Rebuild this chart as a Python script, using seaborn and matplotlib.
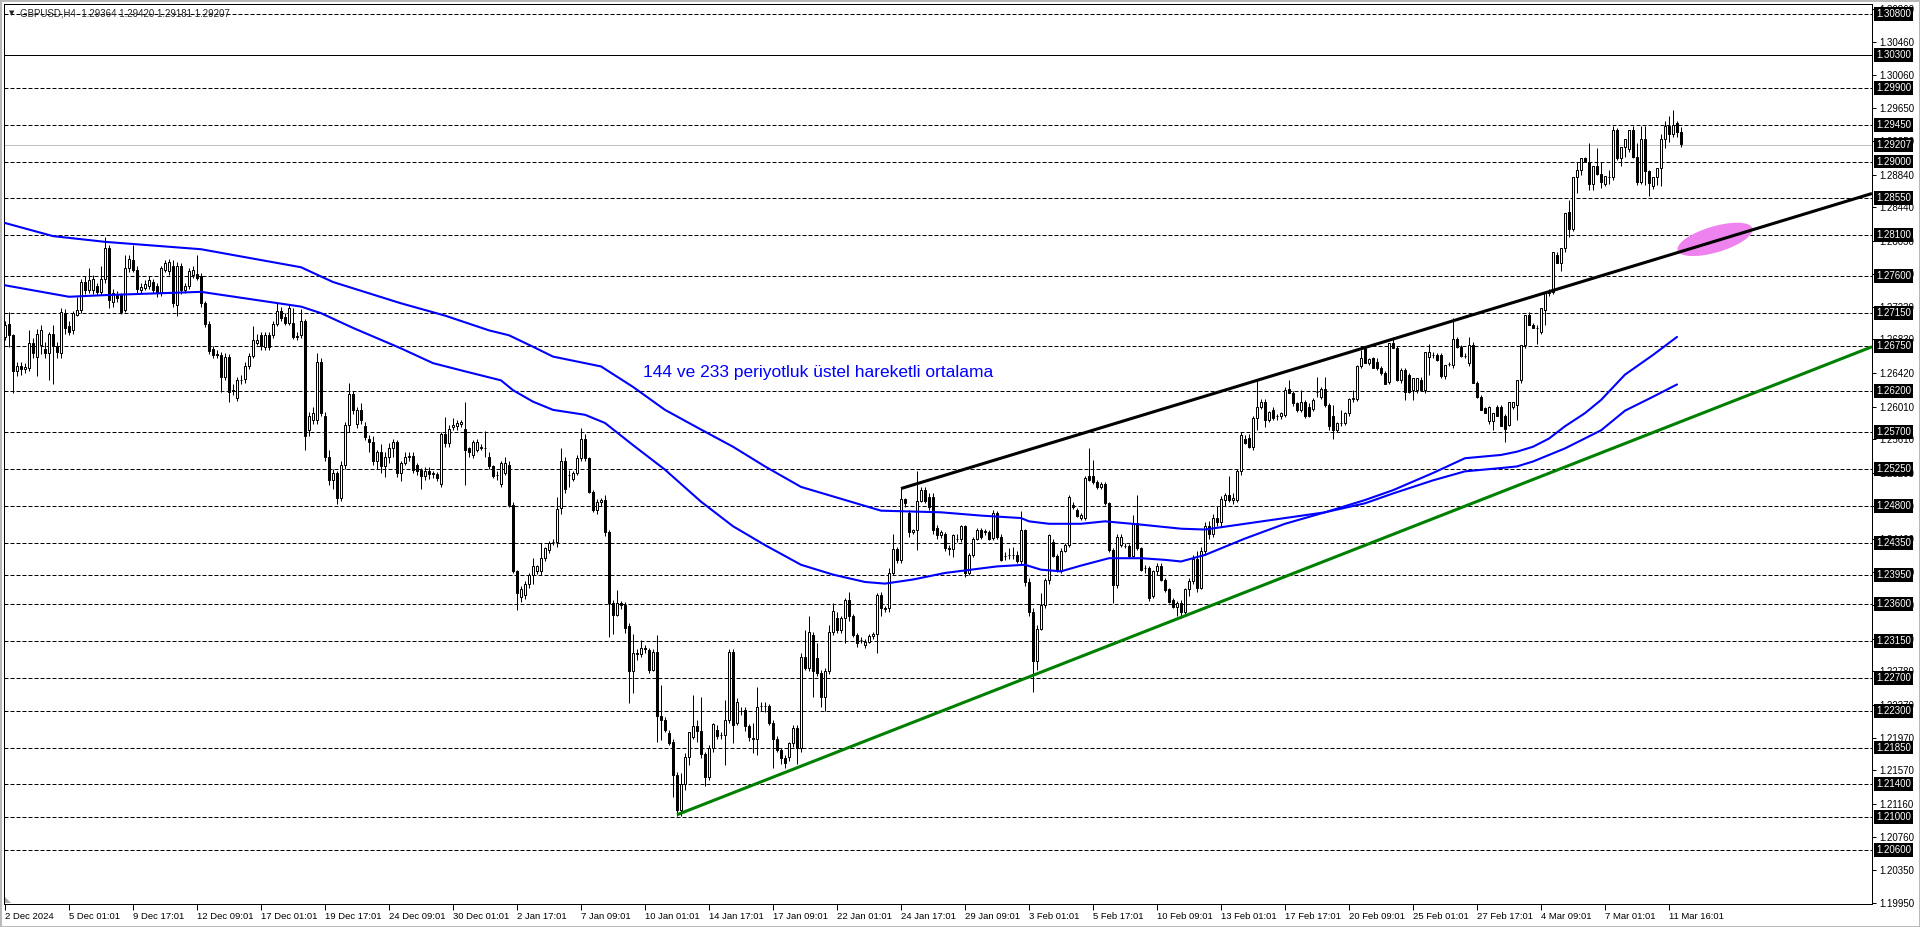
import numpy as np
import pandas as pd
import matplotlib
matplotlib.use("Agg")
import matplotlib.pyplot as plt
import matplotlib.transforms as mtransforms
from matplotlib.patches import Ellipse, Polygon
import seaborn as sns

# GBPUSD H4 candles, values in pips above 1.2000 (686 -> 1.2686)
opens = [
    686, 702, 688, 645, 650, 647, 648, 678, 662, 676,
    671, 666, 689, 675, 666, 715, 699, 694, 713, 719,
    753, 743, 743, 748, 741, 757, 794, 729, 737, 737,
    719, 770, 780, 768, 743, 746, 748, 753, 748, 740,
    768, 766, 773, 725, 773, 743, 748, 762, 763, 760,
    727, 702, 671, 664, 664, 637, 662, 620, 611, 633,
    635, 650, 663, 678, 688, 674, 688, 688, 702, 718,
    710, 703, 703, 687, 688, 705, 572, 585, 585, 656,
    589, 540, 512, 520, 490, 530, 578, 616, 580, 597,
    577, 562, 558, 535, 545, 528, 540, 550, 558, 520,
    532, 540, 541, 530, 524, 516, 523, 519, 519, 507,
    568, 556, 576, 577, 580, 574, 550, 542, 548, 552,
    551, 540, 528, 518, 506, 520, 530, 481, 400, 369,
    371, 385, 395, 400, 400, 416, 426, 436, 436, 477,
    534, 518, 513, 520, 538, 562, 538, 497, 475, 485,
    487, 448, 361, 347, 361, 359, 333, 278, 300, 299,
    306, 304, 280, 302, 223, 218, 203, 192, 151, 109,
    141, 174, 198, 211, 205, 177, 149, 185, 207, 200,
    200, 218, 302, 215, 230, 231, 211, 197, 196, 236,
    236, 236, 215, 196, 182, 172, 174, 190, 209, 184,
    296, 282, 322, 294, 276, 247, 278, 326, 343, 329,
    343, 365, 345, 322, 316, 310, 314, 321, 324, 371,
    355, 355, 398, 427, 414, 488, 471, 448, 450, 486,
    499, 491, 491, 453, 444, 446, 428, 427, 440, 439,
    455, 398, 420, 440, 450, 448, 448, 441, 471, 442,
    419, 420, 420, 420, 412, 450, 387, 350, 290, 330,
    359, 390, 436, 419, 400, 425, 432, 481, 475, 465,
    465, 516, 516, 509, 503, 507, 483, 426, 383, 432,
    431, 431, 419, 459, 428, 404, 404, 370, 400, 407,
    390, 378, 365, 357, 361, 350, 378, 388, 415, 380,
    425, 455, 445, 465, 460, 487, 493, 487, 487, 522,
    562, 563, 552, 587, 601, 607, 585, 597, 589, 589,
    591, 623, 618, 605, 597, 607, 601, 598, 619, 613,
    622, 603, 590, 573, 581, 581, 593, 610, 610, 650,
    672, 654, 660, 656, 648, 642, 631, 678, 672, 633,
    646, 640, 621, 621, 634, 621, 662, 664, 664, 664,
    638, 653, 652, 683, 674, 663, 654, 676, 630, 613,
    599, 583, 583, 601, 601, 589, 579, 601, 603, 634,
    676, 713, 701, 697, 692, 719, 739, 741, 786, 776,
    794, 839, 818, 881, 890, 904, 900, 873, 894, 885,
    873, 881, 881, 939, 904, 918, 915, 939, 905, 875,
    928, 889, 870, 881, 892, 928, 943, 934, 947, 936,
]
highs = [
    705, 716, 690, 655, 655, 654, 694, 685, 696, 700,
    680, 692, 700, 680, 721, 720, 705, 718, 735, 757,
    760, 770, 762, 752, 772, 808, 798, 745, 742, 740,
    786, 786, 798, 772, 752, 756, 760, 757, 752, 772,
    780, 781, 780, 778, 776, 752, 770, 772, 786, 764,
    730, 705, 675, 670, 667, 666, 665, 628, 637, 640,
    655, 666, 699, 690, 692, 692, 692, 705, 727, 723,
    715, 725, 721, 692, 720, 708, 595, 600, 666, 660,
    595, 548, 525, 522, 535, 582, 630, 620, 600, 605,
    582, 566, 565, 548, 555, 545, 556, 562, 560, 535,
    545, 546, 545, 532, 526, 527, 527, 523, 521, 570,
    588, 578, 587, 585, 585, 607, 552, 560, 561, 555,
    571, 545, 530, 522, 535, 540, 535, 485, 402, 382,
    388, 398, 416, 408, 434, 430, 437, 439, 491, 550,
    540, 524, 522, 542, 575, 567, 540, 499, 488, 490,
    493, 450, 365, 377, 364, 362, 337, 324, 305, 316,
    310, 307, 305, 322, 261, 222, 206, 195, 155, 154,
    178, 204, 249, 219, 247, 180, 188, 215, 212, 204,
    243, 305, 305, 245, 235, 234, 214, 215, 259, 240,
    240, 238, 218, 199, 185, 176, 192, 212, 212, 300,
    329, 345, 326, 312, 280, 282, 334, 361, 350, 345,
    367, 375, 348, 325, 320, 317, 323, 326, 374, 375,
    358, 404, 446, 430, 503, 490, 475, 452, 522, 503,
    503, 495, 495, 456, 450, 448, 432, 446, 445, 457,
    457, 422, 442, 453, 453, 452, 450, 475, 474, 445,
    424, 428, 430, 425, 473, 452, 392, 355, 335, 373,
    392, 446, 440, 421, 428, 434, 493, 484, 477, 471,
    516, 550, 536, 511, 509, 509, 485, 428, 445, 445,
    434, 433, 469, 493, 430, 408, 406, 402, 410, 410,
    392, 380, 367, 364, 365, 380, 392, 420, 425, 430,
    460, 462, 470, 480, 492, 495, 516, 495, 525, 570,
    566, 568, 590, 633, 610, 610, 596, 600, 592, 595,
    625, 633, 620, 607, 621, 609, 605, 611, 637, 625,
    637, 605, 603, 582, 597, 595, 612, 621, 652, 670,
    672, 660, 662, 660, 650, 644, 678, 686, 675, 648,
    648, 642, 636, 636, 637, 668, 677, 668, 666, 666,
    652, 656, 709, 686, 676, 666, 686, 680, 632, 615,
    601, 602, 593, 603, 603, 592, 607, 607, 634, 676,
    713, 716, 703, 700, 721, 741, 745, 790, 790, 794,
    837, 853, 881, 900, 904, 906, 922, 894, 916, 900,
    882, 890, 943, 941, 918, 928, 939, 943, 922, 943,
    943, 890, 881, 892, 934, 949, 955, 963, 950, 942,
]
lows = [
    682, 674, 617, 638, 640, 642, 645, 660, 638, 665,
    660, 633, 629, 660, 660, 690, 688, 690, 711, 715,
    738, 740, 738, 737, 737, 752, 721, 722, 728, 714,
    716, 765, 765, 740, 740, 743, 744, 739, 735, 736,
    765, 762, 722, 712, 738, 740, 745, 758, 755, 722,
    698, 665, 660, 660, 619, 633, 607, 615, 608, 628,
    630, 647, 660, 676, 670, 670, 670, 685, 699, 705,
    700, 700, 683, 682, 685, 548, 565, 580, 580, 590,
    535, 505, 500, 482, 486, 525, 570, 592, 575, 580,
    560, 545, 530, 525, 520, 515, 532, 540, 515, 510,
    530, 535, 520, 518, 500, 512, 513, 514, 510, 503,
    552, 552, 572, 573, 576, 505, 540, 538, 545, 548,
    540, 525, 514, 512, 503, 518, 478, 398, 353, 363,
    366, 380, 385, 397, 396, 412, 422, 432, 430, 470,
    496, 503, 510, 518, 535, 535, 495, 472, 470, 480,
    443, 320, 324, 345, 354, 325, 239, 251, 292, 296,
    300, 276, 278, 192, 194, 204, 188, 125, 101, 101,
    133, 164, 195, 192, 172, 138, 145, 180, 196, 196,
    164, 215, 190, 212, 225, 205, 193, 178, 176, 230,
    228, 212, 160, 180, 165, 160, 168, 186, 165, 180,
    280, 278, 247, 272, 235, 229, 275, 322, 325, 325,
    312, 340, 320, 308, 312, 307, 312, 318, 300, 345,
    350, 350, 395, 410, 410, 478, 442, 445, 426, 484,
    483, 475, 446, 440, 441, 425, 420, 418, 436, 436,
    393, 395, 418, 438, 440, 444, 438, 438, 440, 412,
    414, 415, 415, 410, 408, 382, 345, 253, 280, 328,
    355, 385, 417, 399, 398, 423, 430, 476, 466, 463,
    463, 510, 507, 501, 501, 481, 424, 361, 380, 430,
    428, 417, 417, 426, 400, 398, 364, 368, 396, 388,
    375, 361, 355, 345, 343, 348, 370, 385, 375, 378,
    420, 440, 442, 455, 455, 480, 485, 482, 484, 518,
    555, 550, 548, 572, 598, 576, 582, 585, 585, 586,
    588, 617, 602, 595, 595, 587, 588, 596, 613, 610,
    601, 572, 562, 570, 577, 578, 590, 607, 608, 648,
    654, 652, 648, 646, 640, 628, 628, 672, 632, 630,
    609, 618, 609, 618, 620, 618, 640, 660, 657, 636,
    635, 650, 648, 672, 662, 660, 650, 630, 612, 597,
    593, 580, 572, 589, 577, 558, 577, 598, 585, 630,
    672, 701, 697, 677, 690, 701, 736, 738, 776, 767,
    790, 808, 815, 861, 883, 900, 865, 865, 883, 868,
    870, 873, 878, 902, 894, 906, 912, 904, 871, 872,
    871, 858, 867, 871, 870, 916, 924, 930, 930, 918,
]
closes = [
    701, 688, 645, 650, 647, 649, 678, 666, 690, 694,
    666, 690, 675, 668, 716, 697, 692, 715, 719, 753,
    743, 756, 757, 741, 757, 794, 731, 739, 733, 717,
    770, 781, 768, 745, 747, 751, 755, 743, 739, 770,
    776, 777, 727, 773, 743, 748, 766, 768, 758, 727,
    702, 669, 664, 665, 637, 662, 619, 621, 633, 634,
    650, 663, 682, 682, 675, 688, 674, 702, 718, 709,
    703, 721, 686, 686, 705, 565, 589, 593, 656, 593,
    540, 512, 520, 490, 530, 578, 616, 597, 597, 585,
    564, 558, 535, 545, 528, 540, 550, 558, 520, 532,
    540, 541, 524, 522, 516, 523, 519, 520, 514, 568,
    556, 574, 578, 581, 582, 548, 546, 558, 558, 550,
    550, 528, 516, 517, 532, 532, 481, 400, 373, 379,
    385, 395, 406, 406, 416, 428, 435, 436, 476, 534,
    501, 518, 520, 538, 562, 538, 497, 475, 485, 487,
    448, 361, 347, 361, 359, 331, 278, 300, 299, 306,
    305, 280, 302, 223, 218, 207, 190, 151, 109, 141,
    174, 204, 211, 205, 177, 149, 185, 214, 199, 200,
    218, 302, 213, 241, 229, 211, 198, 196, 235, 236,
    236, 215, 196, 182, 172, 166, 190, 209, 184, 296,
    282, 326, 278, 276, 247, 278, 326, 351, 329, 343,
    365, 345, 322, 312, 316, 314, 321, 324, 371, 355,
    354, 398, 427, 414, 488, 483, 448, 450, 486, 499,
    486, 478, 450, 444, 448, 428, 427, 444, 439, 455,
    398, 420, 440, 450, 442, 449, 440, 471, 442, 414,
    419, 420, 420, 412, 450, 387, 350, 290, 330, 359,
    390, 444, 419, 402, 425, 432, 491, 478, 468, 469,
    514, 512, 509, 503, 507, 483, 426, 383, 442, 442,
    431, 419, 459, 428, 402, 404, 367, 400, 407, 390,
    377, 363, 357, 361, 350, 378, 388, 415, 380, 425,
    455, 445, 465, 460, 488, 493, 487, 490, 522, 566,
    556, 552, 587, 601, 607, 585, 595, 587, 589, 593,
    621, 618, 605, 597, 607, 589, 590, 609, 619, 622,
    603, 577, 573, 581, 581, 593, 610, 611, 650, 660,
    654, 659, 648, 648, 642, 629, 678, 672, 633, 646,
    619, 619, 636, 636, 621, 668, 668, 664, 658, 638,
    652, 653, 683, 674, 663, 663, 676, 630, 613, 597,
    593, 601, 593, 589, 577, 574, 607, 607, 634, 676,
    713, 701, 697, 697, 721, 741, 741, 790, 776, 794,
    837, 818, 881, 890, 904, 900, 873, 894, 885, 875,
    882, 881, 939, 904, 918, 928, 939, 905, 875, 928,
    889, 874, 881, 892, 928, 943, 934, 945, 936, 921,
]

date_labels = [
    "2 Dec 2024", "5 Dec 01:01", "9 Dec 17:01", "12 Dec 09:01", "17 Dec 01:01",
    "19 Dec 17:01", "24 Dec 09:01", "30 Dec 01:01", "2 Jan 17:01", "7 Jan 09:01",
    "10 Jan 01:01", "14 Jan 17:01", "17 Jan 09:01", "22 Jan 01:01", "24 Jan 17:01",
    "29 Jan 09:01", "3 Feb 01:01", "5 Feb 17:01", "10 Feb 09:01", "13 Feb 01:01",
    "17 Feb 17:01", "20 Feb 09:01", "25 Feb 01:01", "27 Feb 17:01", "4 Mar 09:01",
    "7 Mar 01:01", "11 Mar 16:01",
]

# EMA 144 / 233 (bar index, pips above 1.2000)
ema144_bars = [0, 16, 25, 49, 74, 79, 87, 99, 107, 115, 124, 127, 132, 137, 145, 150,
               157, 165, 174, 182, 190, 199, 207, 215, 220, 227, 235, 248, 255, 259,
               264, 269, 276, 284, 290, 294, 300, 310, 320, 330, 340, 347, 357, 365,
               374, 378, 382, 386, 390, 395, 399, 405, 412, 418]
ema144_vals = [749, 735, 737, 741, 723, 715, 697, 672, 654, 644, 633, 621, 607, 597, 591, 581,
               554, 524, 485, 455, 432, 408, 396, 387, 385, 390, 398, 406, 408, 402,
               400, 407, 416, 416, 414, 412, 420, 440, 458, 472, 487, 499, 520, 538,
               542, 546, 552, 562, 577, 593, 609, 640, 664, 686]
ema233_bars = [0, 12, 25, 49, 74, 82, 99, 110, 121, 126, 132, 137, 149, 157, 165, 174,
               182, 190, 199, 219, 234, 244, 254, 256, 261, 269, 275, 284, 290, 294,
               300, 310, 320, 330, 340, 347, 357, 365, 374, 378, 382, 390, 399, 405,
               412, 418]
ema233_vals = [825, 809, 802, 793, 771, 753, 727, 712, 694, 688, 674, 662, 650, 625, 597, 573,
               552, 528, 503, 474, 472, 468, 465, 461, 458, 458, 461, 457, 454, 452,
               451, 458, 465, 472, 483, 495, 511, 522, 526, 528, 534, 550, 572, 596,
               613, 628]

# horizontal lines drawn by the user
dashed_levels = [1.30800, 1.29900, 1.29450, 1.29000, 1.28550, 1.28100, 1.27600, 1.27150,
                 1.26750, 1.26200, 1.25700, 1.25250, 1.24800, 1.24350, 1.23950, 1.23600,
                 1.23150, 1.22700, 1.22300, 1.21850, 1.21400, 1.21000, 1.20600]
solid_level = 1.30300
last_price = 1.29207
scale_levels = [1.19950, 1.20350, 1.20760, 1.21160, 1.21570, 1.21970, 1.22370, 1.22780,
                1.23180, 1.23590, 1.23990, 1.24400, 1.24800, 1.25200, 1.25610, 1.26010,
                1.26420, 1.26830, 1.27230, 1.27630, 1.28030, 1.28440, 1.28840, 1.29250,
                1.29650, 1.30060, 1.30460, 1.30860]

# trend lines (bar index, price)
black_trend_bars = [224, 466.75]
black_trend_vals = [1.2501, 1.2861]
green_trend_bars = [168, 466.75]
green_trend_vals = [1.2103, 1.2674]
marker_bar, marker_price = 427.5, 1.2805

title_text = "GBPUSD,H4  1.29364 1.29420 1.29181 1.29207"
note_text = "144 ve 233 periyotluk üstel hareketli ortalama"
note_bar, note_price = 159.5, 1.2643


def to_price(v):
    return 1.2 + np.asarray(v, dtype=float) / 10000.0


def main():
    df = pd.DataFrame({
        "o": to_price(opens), "h": to_price(highs),
        "l": to_price(lows), "c": to_price(closes),
    })
    df["bar"] = np.arange(len(df))
    up = df["c"] >= df["o"]
    body_lo = np.minimum(df["o"], df["c"])
    body_h = (df["c"] - df["o"]).abs()

    sns.set_theme(style="white")
    plt.rcParams["font.family"] = ["Liberation Sans", "DejaVu Sans"]

    W, H = 1920, 927
    fig = plt.figure(figsize=(W / 100, H / 100), dpi=100)
    fig.patch.set_facecolor("white")
    fig.patch.set_edgecolor("#b9b9b9")
    fig.patch.set_linewidth(2)
    ax = fig.add_axes([4 / W, (H - 904) / H, 1868 / W, 900 / H])
    ax.set_facecolor("white")
    ax.set_xlim(-0.25, 466.75)
    ax.set_ylim(1.19941, 1.30922)

    px = 0.72  # one pixel in points
    for lv in dashed_levels:
        ax.axhline(lv, color="black", lw=px, ls=(0, (4, 2)), zorder=1)
    ax.axhline(solid_level, color="black", lw=px, zorder=1)
    ax.axhline(last_price, color="#c0c0c0", lw=px, zorder=1)

    # candles
    ax.vlines(df["bar"], df["l"], df["h"], color="black", lw=px, zorder=3)
    ax.bar(df["bar"][up], body_h[up], bottom=body_lo[up], width=0.5,
           color="white", edgecolor="black", linewidth=px, zorder=4)
    ax.bar(df["bar"][~up], body_h[~up], bottom=body_lo[~up], width=0.5,
           color="black", edgecolor="black", linewidth=px, zorder=4)

    # moving averages
    sns.lineplot(x=ema144_bars, y=to_price(ema144_vals), ax=ax, color="#0000ff",
                 lw=1.5, zorder=5)
    sns.lineplot(x=ema233_bars, y=to_price(ema233_vals), ax=ax, color="#0000ff",
                 lw=1.5, zorder=5)

    ax.plot(green_trend_bars, green_trend_vals, color="#008000", lw=2.2,
            solid_capstyle="butt", zorder=6)

    # pink marker ellipse (size in pixels, centred on data point)
    cx, cy = ax.transData.transform((marker_bar, marker_price))
    ell = Ellipse((cx, cy), 78, 26, angle=16.5, facecolor="#ee82ee",
                  edgecolor="none", transform=mtransforms.IdentityTransform(), zorder=6)
    ax.add_patch(ell)

    ax.plot(black_trend_bars, black_trend_vals, color="black", lw=2.2,
            solid_capstyle="butt", zorder=7)

    ax.text(note_bar, note_price, note_text, color="#0000ff", fontsize=12.5,
            ha="left", va="center", zorder=8)

    # axes and scales
    for sp in ax.spines.values():
        sp.set_visible(True)
        sp.set_color("black")
        sp.set_linewidth(px)
    ax.yaxis.tick_right()
    ax.set_yticks(scale_levels)
    ax.set_yticklabels([f"{v:.5f}" for v in scale_levels])
    ax.tick_params(axis="y", right=True, left=False, direction="out", length=3,
                   width=px, pad=2, labelsize=7, colors="black")
    ax.set_xticks(range(0, 16 * len(date_labels), 16))
    ax.set_xticklabels(date_labels)
    for lab in ax.get_xticklabels():
        lab.set_horizontalalignment("left")
    ax.tick_params(axis="x", bottom=True, direction="out", length=4, width=px,
                   pad=2, labelsize=6.8, colors="black")
    ax.grid(False)

    for lv in dashed_levels + [solid_level, last_price]:
        ax.annotate(f"{lv:.5f}", xy=(1, lv), xycoords=ax.get_yaxis_transform(),
                    xytext=(3, 0), textcoords="offset points", ha="left", va="center",
                    fontsize=7, color="white", annotation_clip=False, zorder=10,
                    bbox=dict(boxstyle="square,pad=0.2", fc="black", ec="none"))

    # small grey corner marker of the chart window (pixel coords)
    corner = Polygon([[5, 24], [5, 30], [11, 24]], closed=True, facecolor="#a8a8a8",
                     edgecolor="none", transform=mtransforms.IdentityTransform())
    fig.patches.append(corner)

    fig.text(12 / W, 1 - 13 / H, "▼", fontsize=5, ha="center", va="center",
             family=["DejaVu Sans"])
    fig.text(20 / W, 1 - 13 / H, title_text, fontsize=7, ha="left", va="center")

    fig.savefig("out.png", dpi=100)
    plt.close(fig)


if __name__ == "__main__":
    main()
